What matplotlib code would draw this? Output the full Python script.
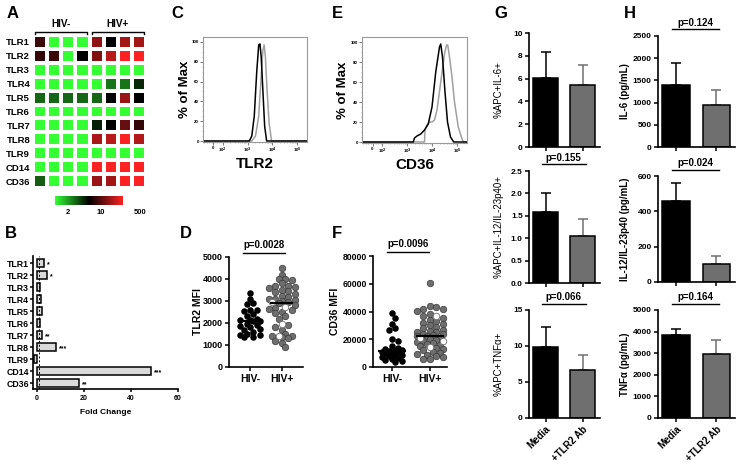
import numpy as np
import matplotlib
matplotlib.use('Agg')
import matplotlib.pyplot as plt
from matplotlib.colors import LinearSegmentedColormap

plt.rcParams['font.family'] = ['Liberation Sans', 'DejaVu Sans']
plt.rcParams['font.weight'] = 'bold'
plt.rcParams['axes.labelweight'] = 'bold'
plt.rcParams['axes.linewidth'] = 1.2
plt.rcParams['xtick.major.width'] = 1.1
plt.rcParams['ytick.major.width'] = 1.1
plt.rcParams['xtick.major.size'] = 3
plt.rcParams['ytick.major.size'] = 3

# ---- données ----
genes = ['TLR1', 'TLR2', 'TLR3', 'TLR4', 'TLR5', 'TLR6', 'TLR7', 'TLR8', 'TLR9', 'CD14', 'CD36']

# A : niveau de couleur (0 = vert, 0.5 = noir, 1 = rouge), 4 HIV- puis 4 HIV+
heat = np.array([
    [0.62, 0.0, 0.0, 0.0, 0.78, 0.50, 0.82, 0.82],
    [0.60, 0.62, 0.0, 0.50, 0.75, 0.86, 1.0, 1.0],
    [0.0] * 8,
    [0.0, 0.0, 0.0, 0.0, 0.0, 0.27, 0.27, 0.42],
    [0.30, 0.30, 0.30, 0.30, 0.30, 0.50, 0.80, 0.50],
    [0.0] * 8,
    [0.0, 0.0, 0.0, 0.0, 0.44, 0.50, 0.70, 0.60],
    [0.0, 0.0, 0.0, 0.0, 0.83, 0.86, 1.0, 0.85],
    [0.0] * 8,
    [0.0, 0.0, 0.0, 0.0, 1.0, 1.0, 1.0, 1.0],
    [0.32, 0.0, 0.0, 0.0, 0.80, 0.82, 1.0, 1.0],
])
cbar_ticks = [0.19, 0.68, 1.25]
cbar_labels = ['2', '10', '500']

# B : fold change
fold = [3.0, 4.3, 1.3, 1.8, 2.2, 1.2, 2.3, 8.1, -1.3, 48.5, 17.9]
stars = ['*', '*', '', '', '', '', '**', '***', '', '***', '**']

# C / E : histogrammes (x en log10 de l'intensité, y en % du max)
tlr2_neg_x = [1.2, 3.07, 3.17, 3.27, 3.37, 3.45, 3.5, 3.55, 3.62, 3.69, 3.77, 5.4]
tlr2_neg_y = [0, 0, 5, 25, 70, 97, 98, 85, 50, 15, 0, 0]
tlr2_pos_x = [1.2, 3.17, 3.32, 3.45, 3.55, 3.62, 3.67, 3.72, 3.79, 3.87, 3.97, 5.4]
tlr2_pos_y = [0, 0, 5, 25, 65, 92, 97, 85, 50, 18, 0, 0]
cd36_neg_x = [1.2, 3.25, 3.3, 3.4, 3.55, 3.7, 3.85, 4.0, 4.15, 4.3, 4.35, 4.42, 4.52, 4.62, 4.74, 4.87, 5.4]
cd36_neg_y = [0, 0, 4, 6, 8, 12, 18, 35, 70, 95, 98, 85, 50, 20, 5, 0, 0]
cd36_pos_x = [1.2, 3.7, 3.72, 3.8, 3.9, 4.0, 4.1, 4.2, 4.35, 4.5, 4.58, 4.63, 4.7, 4.8, 4.9, 5.05, 5.2, 5.26, 5.4]
cd36_pos_y = [0, 0, 12, 17, 20, 20, 22, 32, 60, 88, 97, 97, 85, 65, 40, 15, 3, 0, 0]
flow_ticks = [1.62, 2, 3, 4, 5]
flow_labels = ['0', '10$^2$', '10$^3$', '10$^4$', '10$^5$']

# D : TLR2 MFI
tlr2_neg = [3350, 3100, 2900, 2850, 2600, 2600, 2550, 2400, 2300, 2200, 2150, 2150, 2100,
            2100, 1950, 1900, 1850, 1800, 1750, 1700, 1600, 1500, 1450, 1450, 1350, 1350]
tlr2_pos = [4500, 4200, 4000, 4000, 3950, 3800, 3700, 3700, 3650, 3600, 3500, 3450, 3400, 3300,
            3250, 3200, 3100, 3100, 3050, 3000, 2950, 2900, 2800, 2700, 2650, 2600, 2500, 2450,
            2300, 2200, 1900, 1800, 1700, 1500, 1400, 1400, 1350, 1300, 1200, 1100, 900]
tlr2_pos_open = [2950, 2750, 1950, 1400]

# F : CD36 MFI
cd36_neg = [39000, 35500, 31000, 28000, 27000, 20000, 18500, 15000, 14000, 13000, 12500, 12000, 11500,
            11000, 10500, 10000, 9500, 9000, 8500, 8000, 7000, 6500, 6000, 5000, 4000, 3500]
cd36_pos = [60500, 44000, 43000, 42000, 41500, 40500, 38000, 36500, 35000, 34000, 33000, 32000, 31000,
            30000, 29000, 28000, 27000, 26000, 25500, 25000, 24000, 23500, 23000, 22500, 22000, 21000,
            20000, 19500, 19000, 18000, 17000, 16500, 16000, 15000, 14000, 13000, 12000, 11000, 10000,
            9500, 9000, 8000, 7000, 6000, 5500]
cd36_pos_open = [37000, 21000, 19000, 14500]

# G / H : Media vs +TLR2 Ab
conds = ['Media', '+TLR2 Ab']
g_labels = ['%APC+IL-6+', '%APC+IL-12/IL-23p40+', '%APC+TNF\u03b1+']
g_mean = [[6.05, 5.45], [1.59, 1.04], [9.9, 6.6]]
g_err = [[2.3, 1.75], [0.43, 0.38], [2.8, 2.2]]
g_ymax = [10, 2.5, 15]
g_step = [2, 0.5, 5]
g_p = [None, 'p=0.155', 'p=0.066']
h_labels = ['IL-6 (pg/mL)', 'IL-12/IL-23p40 (pg/mL)', 'TNF\u03b1 (pg/mL)']
h_mean = [[1400, 950], [457, 101], [3850, 2950]]
h_err = [[490, 340], [104, 47], [250, 665]]
h_ymax = [2500, 600, 5000]
h_step = [500, 200, 1000]
h_p = ['p=0.124', 'p=0.024', 'p=0.164']

W, H = 740, 466
fig = plt.figure(figsize=(W / 100, H / 100), dpi=100)


def box(l, t, r, b):
    # axes placé en pixels (gauche, haut, droite, bas)
    return fig.add_axes([l / W, 1 - b / H, (r - l) / W, (b - t) / H])


def letter(x, y, s):
    fig.text(x / W, 1 - y / H, s, fontsize=12, weight='bold', va='center', ha='left')


def swarm(vals, ypx, xpx, d=6.5, wmax=14):
    # placement en essaim (calculé en pixels), points qui se chevauchent un peu
    vals = np.asarray(vals, float)
    offs = np.zeros(len(vals))
    done = []
    cands = [0.0]
    for k in range(1, int(wmax / (d * 0.5)) + 1):
        cands += [k * d * 0.5, -k * d * 0.5]
    for i in np.argsort(vals)[::-1]:
        y = vals[i] * ypx
        best, best_gap = 0.0, -1
        for o in cands:
            gap = min([np.hypot(o - ox, y - oy) for ox, oy in done] + [99])
            if gap >= 0.75 * d:
                best = o
                break
            if gap > best_gap:
                best, best_gap = o, gap
        done.append((best, y))
        offs[i] = best / xpx
    return offs


# ---- A : heatmap ----
cmap = LinearSegmentedColormap.from_list('gkr', ['#33ff33', '#000000', '#ff2222'])
ax = box(33, 35, 146, 188)
ax.pcolormesh(heat, cmap=cmap, vmin=0, vmax=1, edgecolors='white', linewidth=1.6)
ax.set_xlim(0, 8)
ax.set_ylim(11, 0)
ax.set_yticks(np.arange(11) + 0.5)
ax.set_yticklabels(genes, fontsize=6.8)
ax.set_xticks([])
ax.tick_params(length=0, pad=2)
for s in ax.spines.values():
    s.set_visible(False)
for x0, x1, lab in [(0.15, 3.85, 'HIV-'), (4.15, 7.85, 'HIV+')]:
    ax.plot([x0, x0, x1, x1], [-0.05, -0.22, -0.22, -0.05], color='black', lw=1, clip_on=False)
    ax.text((x0 + x1) / 2, -0.45, lab, ha='center', va='bottom', fontsize=7.2)
letter(7, 13, 'A')

cax = box(55, 196, 146, 205)
cax.imshow(np.linspace(0, 1, 256)[None, :], cmap=cmap, aspect='auto', extent=[0, 1, 0, 1])
cax.set_xlim(0, 91 / 68)
cax.set_ylim(0, 1)
cax.set_yticks([])
cax.set_xticks(cbar_ticks)
cax.set_xticklabels(cbar_labels, fontsize=5.5)
cax.tick_params(length=0, pad=3)
for s in cax.spines.values():
    s.set_visible(False)

# ---- B : fold change ----
ax = box(33, 256, 178, 389)
y = np.arange(len(genes))
ax.barh(y, fold, height=0.62, color='#dadada', edgecolor='black', linewidth=1.1)
ax.axvline(1, color='black', ls='--', lw=0.7, dashes=(2, 2))
for i, (v, s) in enumerate(zip(fold, stars)):
    if s:
        ax.text(v + 1.2, i + 0.15, s, va='center', ha='left', fontsize=5)
ax.set_yticks(y)
ax.set_yticklabels(genes, fontsize=6.3)
ax.set_ylim(10.5, -0.6)
ax.set_xlim(-1.7, 60)
ax.set_xticks([0, 20, 40, 60])
ax.tick_params(axis='x', labelsize=5, length=2.5, pad=1.5)
ax.tick_params(axis='y', length=2, pad=1)
for s in ['top', 'right']:
    ax.spines[s].set_visible(False)
ax.set_xlabel('Fold Change', fontsize=6)
ax.xaxis.set_label_coords(0.5, -0.15)
letter(5, 233, 'B')


# ---- C / E : histogrammes ----
def flow(rect, xn, yn, xp, yp, lab, let, lx):
    ax = box(*rect)
    ax.plot(xp, yp, color='#a0a0a0', lw=1.1)
    ax.plot(xn, yn, color='black', lw=1.1)
    ax.set_xlim(1.2, 5.4)
    ax.set_ylim(-1, 105)
    ax.set_xticks(flow_ticks)
    ax.set_xticklabels(flow_labels, fontsize=3.2)
    ax.set_xticks([np.log10(k * 10.0 ** n) for n in range(2, 5) for k in range(2, 10)]
                  + list(np.linspace(1.25, 1.95, 8)), minor=True)
    ax.set_yticks(range(0, 101, 20))
    ax.set_yticklabels([str(v) for v in range(0, 101, 20)], fontsize=3.2)
    ax.set_yticks(range(0, 101, 5), minor=True)
    ax.tick_params(which='major', length=2, width=0.6, pad=1, color='#666666')
    ax.tick_params(which='minor', length=1, width=0.4, color='#888888')
    for s in ax.spines.values():
        s.set_color('#999999')
        s.set_linewidth(0.8)
    ax.set_ylabel('% of Max', fontsize=9.5)
    ax.yaxis.set_label_coords(-0.12, 0.5)
    ax.set_xlabel(lab, fontsize=11)
    ax.xaxis.set_label_coords(0.5, -0.14)
    letter(lx, 14, let)


flow((203, 37, 307, 142), tlr2_neg_x, tlr2_neg_y, tlr2_pos_x, tlr2_pos_y, 'TLR2', 'C', 171)
flow((362, 37, 467, 143), cd36_neg_x, cd36_neg_y, cd36_pos_x, cd36_pos_y, 'CD36', 'E', 332)


# ---- D / F : nuages de points ----
def dots(rect, neg, pos, pos_open, ymax, step, ylab, ptxt, pline, xpx, let, lx, labx, tsize):
    ax = box(*rect)
    ypx = (rect[3] - rect[1]) / ymax
    xn = swarm(neg, ypx, xpx, wmax=12)
    allpos = list(pos) + list(pos_open)
    xp = 1 + swarm(allpos, ypx, xpx, wmax=14)
    ax.scatter(xn, neg, s=22, color='black', zorder=3, linewidths=0)
    ax.scatter(xp[:len(pos)], pos, s=22, color='#6e6e6e', edgecolors='#3a3a3a', linewidths=0.5, zorder=3)
    ax.scatter(xp[len(pos):], pos_open, s=22, color='white', edgecolors='#6e6e6e', linewidths=0.6, zorder=3)
    ax.hlines([np.median(neg), np.median(allpos)], [-0.36, 0.64], [0.36, 1.36], color='black', lw=1.6, zorder=4)
    ax.plot(pline, [ymax * 1.04] * 2, color='black', lw=1, clip_on=False)
    ax.text(np.mean(pline), ymax * 1.06, ptxt, ha='center', va='bottom', fontsize=7)
    ax.set_ylim(0, ymax)
    ax.set_yticks(np.arange(0, ymax + 1, step))
    ax.set_xticks([0, 1])
    ax.set_xticklabels(['HIV-', 'HIV+'], fontsize=7.5)
    ax.tick_params(axis='y', labelsize=tsize, pad=1.5)
    ax.tick_params(axis='x', pad=2)
    for s in ['top', 'right']:
        ax.spines[s].set_visible(False)
    ax.set_ylabel(ylab, fontsize=7.5)
    ax.yaxis.set_label_coords(labx, 0.5)
    letter(lx, 233, let)
    return ax


ax = dots((229, 257, 303, 367), tlr2_neg, tlr2_pos, tlr2_pos_open, 5000, 1000, 'TLR2 MFI',
          'p=0.0028', [-0.22, 1.1], 32, 'D', 180, -0.35, 6.5)
ax.set_xlim(-0.66, 1.66)
ax = dots((373, 256, 447, 367), cd36_neg, cd36_pos, cd36_pos_open, 80000, 20000, 'CD36 MFI',
          'p=0.0096', [-0.13, 0.97], 38, 'F', 332, -0.45, 6.2)
ax.set_xlim(-0.5, 1.45)


# ---- G / H : barres ----
def bars(rect, means, errs, ymax, step, ylab, ptxt, last, fmt, weight, labx):
    ax = box(*rect)
    cols = ['black', '#6f6f6f']
    x = np.arange(2)
    ax.bar(x, means, width=0.68, color=cols, edgecolor='black', linewidth=1.1, zorder=2)
    for xi, m, e, c in zip(x, means, errs, cols):
        ax.errorbar(xi, m, yerr=[[0], [e]], color=c, capsize=3.5, capthick=1.1, elinewidth=1.1, zorder=1)
    if ptxt:
        ax.plot([-0.1, 1.08], [ymax * 1.06] * 2, color='black', lw=1, clip_on=False)
        ax.text(0.49, ymax * 1.075, ptxt, ha='center', va='bottom', fontsize=7)
    ax.set_xlim(-0.45, 1.47)
    ax.set_ylim(0, ymax)
    ticks = np.arange(0, ymax + step / 2, step)
    ax.set_yticks(ticks)
    ax.set_yticklabels([fmt.format(t) for t in ticks], fontsize=6)
    ax.set_xticks(x)
    if last:
        ax.set_xticklabels(conds, fontsize=7, rotation=45, ha='right', rotation_mode='anchor')
    else:
        ax.set_xticklabels([])
    ax.tick_params(axis='y', pad=1.5, length=3)
    ax.tick_params(axis='x', pad=1.5, length=3)
    for s in ['top', 'right']:
        ax.spines[s].set_visible(False)
    ax.set_ylabel(ylab, fontsize=7, fontweight=weight)
    ax.yaxis.set_label_coords(labx, 0.5)


g_rects = [(529, 33, 600, 147), (529, 171, 600, 283), (529, 310, 600, 418)]
g_fmt = ['{:.0f}', '{:.1f}', '{:.0f}']
for i in range(3):
    bars(g_rects[i], g_mean[i], g_err[i], g_ymax[i], g_step[i], g_labels[i], g_p[i], i == 2,
         g_fmt[i], 'normal', -0.36)
letter(494, 14, 'G')

h_rects = [(658, 36, 735, 147), (658, 176, 735, 282), (658, 310, 735, 418)]
for i in range(3):
    bars(h_rects[i], h_mean[i], h_err[i], h_ymax[i], h_step[i], h_labels[i], h_p[i], i == 2,
         '{:.0f}', 'bold', -0.36)
letter(624, 14, 'H')

fig.savefig('out.png', dpi=100)
